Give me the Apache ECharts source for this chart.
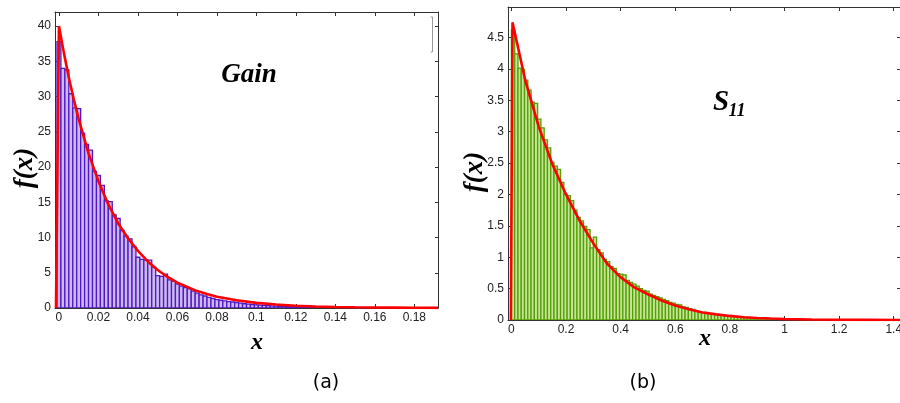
<!DOCTYPE html>
<html><head><meta charset="utf-8">
<script src="https://cdn.jsdelivr.net/npm/echarts@6/dist/echarts.min.js"></script>
<style>html,body{margin:0;padding:0;background:#fff;}#c{width:900px;height:403px;}</style>
</head><body><div id="c"></div>
<script>
// ---------- (a) Gain ----------
const gainBinWidth = 0.002;
const gainFirstEdge = -0.001;
const gainHeights = [37.8, 34.0, 33.8, 30.4, 28.4, 28.3, 24.8, 23.2, 22.4, 19.4,
  18.8, 17.4, 15.2, 15.1, 13.2, 12.7, 11.0, 10.2, 9.8, 8.7,
  7.2, 6.9, 6.8, 6.8, 5.8, 4.6, 4.5, 4.8, 4.0, 3.8,
  3.4, 3.1, 2.9, 2.7, 2.4, 2.1, 1.85, 1.7, 1.5, 1.35,
  1.2, 1.1, 1.0, 0.9, 0.85, 0.78, 0.7, 0.6, 0.55, 0.5,
  0.45, 0.42, 0.38, 0.35, 0.3, 0.28, 0.25, 0.22, 0.2, 0.18,
  0.16, 0.14, 0.12, 0.1, 0.09, 0.08, 0.06, 0.05, 0.05, 0.04, 0.03];
const gainCurveX = [-0.0015, 0, 0.0025, 0.005, 0.0075, 0.01, 0.015, 0.02, 0.025, 0.03,
  0.035, 0.04, 0.045, 0.05, 0.055, 0.06, 0.065, 0.07, 0.075, 0.08,
  0.09, 0.1, 0.11, 0.12, 0.13, 0.14, 0.15, 0.16, 0.17, 0.18, 0.192];
const gainCurveY = [0, 40, 36.2, 32.7, 29.6, 26.8, 21.9, 18.0, 14.7, 12.0,
  9.9, 8.1, 6.6, 5.4, 4.4, 3.6, 3.0, 2.4, 2.0, 1.6,
  1.1, 0.73, 0.49, 0.33, 0.22, 0.15, 0.1, 0.07, 0.05, 0.03, 0.02];
const gainXTicks = [0, 0.02, 0.04, 0.06, 0.08, 0.1, 0.12, 0.14, 0.16, 0.18];
const gainYTicks = [0, 5, 10, 15, 20, 25, 30, 35, 40];

// ---------- (b) S11 ----------
const s11BinWidth = 0.012;
const s11FirstEdge = 0;
const s11Heights = [4.62, 4.24, 4.01, 3.99, 3.82, 3.66, 3.47, 3.45, 3.2, 3.06,
  2.87, 2.74, 2.51, 2.45, 2.40, 2.19, 2.0, 1.98, 1.90, 1.75,
  1.63, 1.58, 1.49, 1.44, 1.15, 1.32, 1.12, 1.07, 0.96, 0.93,
  0.85, 0.82, 0.74, 0.73, 0.72, 0.63, 0.6, 0.57, 0.54, 0.5,
  0.47, 0.46, 0.41, 0.39, 0.37, 0.35, 0.33, 0.31, 0.28, 0.27,
  0.25, 0.24, 0.21, 0.2, 0.18, 0.17, 0.14, 0.13, 0.12, 0.12,
  0.1, 0.1, 0.085, 0.08, 0.075, 0.07, 0.06, 0.055, 0.05, 0.05,
  0.045, 0.04, 0.04, 0.035, 0.03, 0.03, 0.025, 0.025, 0.02, 0.02,
  0.015, 0.012, 0.01, 0.008];
const s11CurveX = [-0.002, 0.004, 0.05, 0.1, 0.15, 0.2, 0.25, 0.3, 0.35, 0.4,
  0.45, 0.5, 0.55, 0.6, 0.65, 0.7, 0.75, 0.8, 0.85, 0.9,
  0.95, 1.0, 1.1, 1.2, 1.3, 1.423];
const s11CurveY = [0, 4.74, 3.83, 3.08, 2.48, 2.0, 1.58, 1.22, 0.9, 0.68,
  0.52, 0.41, 0.31, 0.23, 0.17, 0.12, 0.09, 0.065, 0.045, 0.033,
  0.024, 0.017, 0.008, 0.004, 0.002, 0.001];
const s11XTicks = [0, 0.2, 0.4, 0.6, 0.8, 1, 1.2, 1.4];
const s11YTicks = [0, 0.5, 1, 1.5, 2, 2.5, 3, 3.5, 4, 4.5];

// ---------- build ----------
const AX = '#333';
const LBL = {color: '#222', fontSize: 12, fontFamily: 'Liberation Sans', margin: 4};
function xAxes(gi, min, max, ticks) {
  const base = {type: 'value', gridIndex: gi, min: min, max: max, splitLine: {show: false}};
  return [
    Object.assign({}, base, {position: 'bottom',
      axisLine: {show: true, onZero: false, lineStyle: {color: AX, width: 1}},
      axisTick: {show: true, inside: true, length: 4, customValues: ticks, lineStyle: {color: AX}},
      axisLabel: Object.assign({customValues: ticks}, LBL)}),
    Object.assign({}, base, {position: 'top',
      axisLine: {show: true, onZero: false, lineStyle: {color: AX, width: 1}},
      axisTick: {show: true, inside: true, length: 4, customValues: ticks, lineStyle: {color: AX}},
      axisLabel: {show: false}})
  ];
}
function yAxes(gi, min, max, ticks, rightLine) {
  const base = {type: 'value', gridIndex: gi, min: min, max: max, splitLine: {show: false}};
  return [
    Object.assign({}, base, {position: 'left',
      axisLine: {show: true, onZero: false, lineStyle: {color: AX, width: 1}},
      axisTick: {show: true, inside: true, length: 4, customValues: ticks, lineStyle: {color: AX}},
      axisLabel: Object.assign({customValues: ticks}, LBL)}),
    Object.assign({}, base, {position: 'right',
      axisLine: {show: rightLine, onZero: false, lineStyle: {color: AX, width: 1}},
      axisTick: {show: true, inside: true, length: 3, customValues: ticks, lineStyle: {color: AX}},
      axisLabel: {show: false}})
  ];
}
function histSeries(xi, yi, first, w, heights, fill, stroke) {
  return {
    type: 'custom', xAxisIndex: xi, yAxisIndex: yi, clip: true, z: 2,
    data: heights.map((h, i) => [first + i * w, first + (i + 1) * w, h]),
    encode: {x: [0, 1], y: 2},
    renderItem: function (params, api) {
      const p0 = api.coord([api.value(0), api.value(2)]);
      const p1 = api.coord([api.value(1), 0]);
      return {type: 'rect',
        shape: {x: p0[0], y: p0[1], width: p1[0] - p0[0], height: p1[1] - p0[1]},
        style: {fill: fill, stroke: stroke, lineWidth: 1.3}};
    }
  };
}
function curveSeries(xi, yi, xs, ys) {
  return {type: 'line', xAxisIndex: xi, yAxisIndex: yi, clip: true, z: 5,
    data: xs.map((x, i) => [x, ys[i]]), symbol: 'none', showSymbol: false,
    lineStyle: {color: '#ff0000', width: 2.6}};
}
const SERIF = {fontFamily: 'Liberation Serif', fontWeight: 'bold', fontStyle: 'italic', fill: '#000'};
function txt(x, y, text, size, extra, rot) {
  return {type: 'text', x: x, y: y, rotation: rot || 0, z: 20,
    style: Object.assign({text: text, fontSize: size, align: 'center', verticalAlign: 'middle'}, extra)};
}
const option = {
  animation: false,
  backgroundColor: '#fff',
  grid: [
    {left: 55, top: 12, width: 383, height: 296, outerBoundsMode: 'none', containLabel: false},
    {left: 508, top: 7, width: 392, height: 313, outerBoundsMode: 'none', containLabel: false}
  ],
  xAxis: xAxes(0, -0.002, 0.192, gainXTicks).concat(xAxes(1, -0.0125, 1.423, s11XTicks)),
  yAxis: yAxes(0, 0, 42, gainYTicks, true).concat(yAxes(1, 0, 4.985, s11YTicks, false)),
  series: [
    histSeries(0, 0, gainFirstEdge, gainBinWidth, gainHeights, '#cbb9f2', '#5218c4'),
    curveSeries(0, 0, gainCurveX, gainCurveY),
    histSeries(2, 2, s11FirstEdge, s11BinWidth, s11Heights, '#c4e49a', '#55a000'),
    curveSeries(2, 2, s11CurveX, s11CurveY)
  ],
  graphic: [
    {type: 'polyline', z: 20, shape: {points: [[430.5, 17], [432.5, 17], [432.5, 52], [430.5, 52]]},
      style: {stroke: '#999', lineWidth: 1, fill: null}},
    txt(25, 168, 'f(x)', 27, SERIF, Math.PI / 2),
    txt(249, 75, 'Gain', 27, SERIF),
    txt(257, 343, 'x', 24, SERIF),
    txt(326, 383, '(a)', 19, {fontFamily: 'DejaVu Sans', fill: '#000'}),
    txt(475, 172, 'f(x)', 27, SERIF, Math.PI / 2),
    txt(721, 103, 'S', 29, SERIF),
    txt(737, 111, '11', 18, SERIF),
    txt(705, 339, 'x', 24, SERIF),
    txt(643, 383, '(b)', 19, {fontFamily: 'DejaVu Sans', fill: '#000'})
  ]
};
const chart = echarts.init(document.getElementById('c'), null, {renderer: 'canvas'});
chart.setOption(option);
</script>
</body></html>
